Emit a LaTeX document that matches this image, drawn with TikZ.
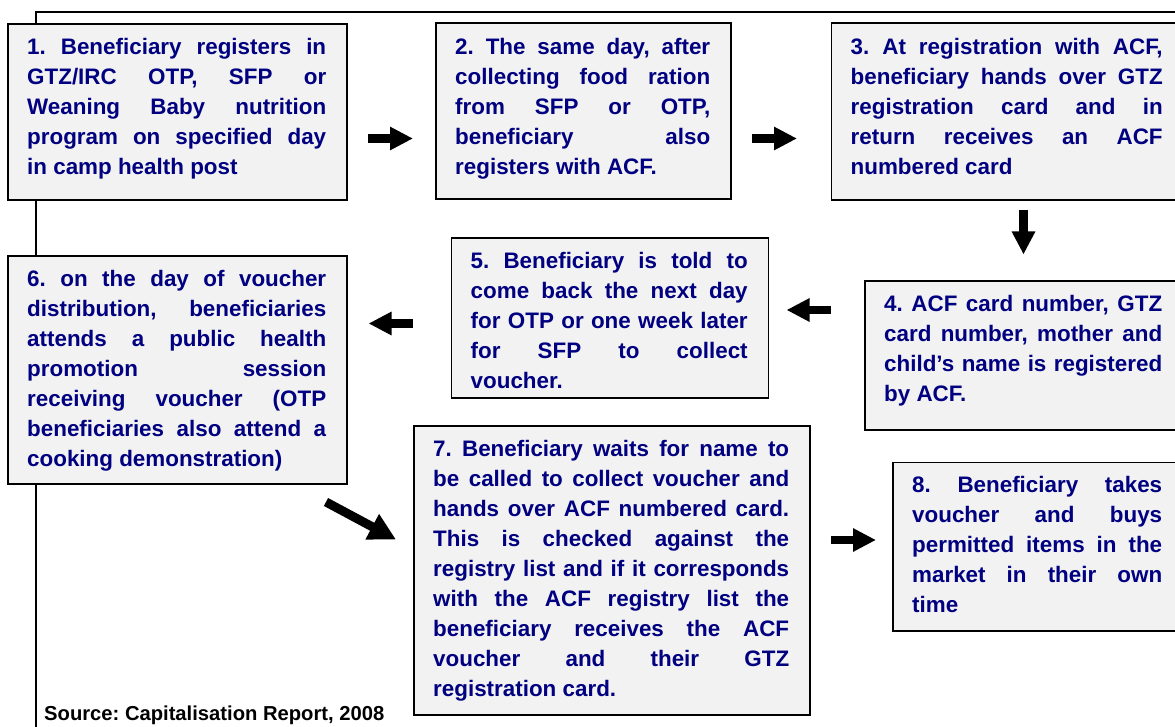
\documentclass[tikz,border=0pt]{standalone}
\usepackage{fontspec}
\setmainfont{Liberation Sans}
\usetikzlibrary{arrows.meta}
\frenchspacing
\definecolor{navytext}{HTML}{000080}
\definecolor{boxfill}{HTML}{F2F2F2}
\newcommand\boxtextfont{\fontsize{22.4}{30}\selectfont\bfseries\hyphenpenalty=10000\exhyphenpenalty=10000}
\newcommand\fl{\rule{0pt}{20pt}}
\begin{document}
\begin{tikzpicture}[x=1pt,y=-1pt,
  panel/.style={draw=black, line width=1.6pt, fill=boxfill, anchor=north west, inner sep=0pt},
  txt/.style={anchor=north west, inner sep=0pt, text width=#1, align=justify, font=\boxtextfont, text=navytext},
  blockarrow/.style={line width=8.5pt, -{Triangle[length=23pt,width=22pt]}},
  bigarrow/.style={line width=9pt, -{Triangle[length=27pt,width=27pt]}},
  frameline/.style={line width=1.8pt}]
\useasboundingbox (0,0) rectangle (1175,727);
\clip (0,0) rectangle (1175,727);
% frame
\coordinate (fb) at (36,730);
\coordinate (fc) at (36,12);
\coordinate (fr) at (1180,12);
\draw[frameline] (fb) -- (fc) -- (fr);
% boxes
\node[panel, minimum width=339pt, minimum height=176pt] (b1) at (7,23) {};
\node[panel, minimum width=295pt, minimum height=176pt] (b2) at (435,22) {};
\node[panel, minimum width=352pt, minimum height=176.5pt] (b3) at (830.5,22.5) {};
\node[panel, minimum width=318pt, minimum height=149pt] (b4) at (864,280) {};
\node[panel, minimum width=317pt, minimum height=160pt] (b5) at (450.5,237) {};
\node[panel, minimum width=339pt, minimum height=228pt] (b6) at (7,255) {};
\node[panel, minimum width=396pt, minimum height=289pt] (b7) at (413,425) {};
\node[panel, minimum width=290pt, minimum height=168.5pt] (b8) at (892,461.5) {};
% texts
\node[txt=299pt] (t1) at (27,34) {\fl 1.~Beneficiary~registers~in\linebreak GTZ/IRC~OTP,~SFP~or\linebreak Weaning~Baby~nutrition\linebreak program~on~specified~day\linebreak in~camp~health~post};
\node[txt=255pt] (t2) at (455,34) {\fl 2.~The~same~day,~after\linebreak collecting~food~ration\linebreak from~SFP~or~OTP,\linebreak beneficiary~also\linebreak registers~with~ACF.};
\node[txt=312pt] (t3) at (850.5,34) {\fl 3.~At~registration~with~ACF,\linebreak beneficiary~hands~over~GTZ\linebreak registration~card~and~in\linebreak return~receives~an~ACF\linebreak numbered~card};
\node[txt=278pt] (t4) at (884,291.5) {\fl 4.~ACF~card~number,~GTZ\linebreak card~number,~mother~and\linebreak child’s~name~is~registered\linebreak by~ACF.};
\node[txt=277pt] (t5) at (470.5,248) {\fl 5.~Beneficiary~is~told~to\linebreak come~back~the~next~day\linebreak for~OTP~or~one~week~later\linebreak for~SFP~to~collect\linebreak voucher.};
\node[txt=299pt] (t6) at (27,266.5) {\fl 6.~on~the~day~of~voucher\linebreak distribution,~beneficiaries\linebreak attends~a~public~health\linebreak promotion~session\linebreak receiving~voucher~(OTP\linebreak beneficiaries~also~attend~a\linebreak cooking~demonstration)};
\node[txt=356pt] (t7) at (433,436.5) {\fl 7.~Beneficiary~waits~for~name~to\linebreak be~called~to~collect~voucher~and\linebreak hands~over~ACF~numbered~card.\linebreak This~is~checked~against~the\linebreak registry~list~and~if~it~corresponds\linebreak with~the~ACF~registry~list~the\linebreak beneficiary~receives~the~ACF\linebreak voucher~and~their~GTZ\linebreak registration~card.};
\node[txt=250pt] (t8) at (912,472.5) {\fl 8.~Beneficiary~takes\linebreak voucher~and~buys\linebreak permitted~items~in~the\linebreak market~in~their~own\linebreak time};
% source
\node[anchor=base west, inner sep=0pt, font=\fontsize{20.2}{24}\selectfont\bfseries] (src) at (44,720.5) {Source: Capitalisation Report, 2008};
% arrows
\coordinate (a1s) at (368,138.5); \coordinate (a1e) at (413,138.5);
\coordinate (a2s) at (752,138.5); \coordinate (a2e) at (797,138.5);
\coordinate (a3s) at (1023.5,210); \coordinate (a3e) at (1023.5,254.5);
\coordinate (a4s) at (831,310); \coordinate (a4e) at (786.5,310);
\coordinate (a5s) at (413,323.5); \coordinate (a5e) at (368.5,323.5);
\coordinate (a6s) at (326,502); \coordinate (a6e) at (396,539.5);
\coordinate (a7s) at (831,540); \coordinate (a7e) at (876,540);
\draw[blockarrow] (a1s) -- (a1e);
\draw[blockarrow] (a2s) -- (a2e);
\draw[blockarrow] (a3s) -- (a3e);
\draw[blockarrow] (a4s) -- (a4e);
\draw[blockarrow] (a5s) -- (a5e);
\draw[bigarrow] (a6s) -- (a6e);
\draw[blockarrow] (a7s) -- (a7e);
\end{tikzpicture}
\end{document}
